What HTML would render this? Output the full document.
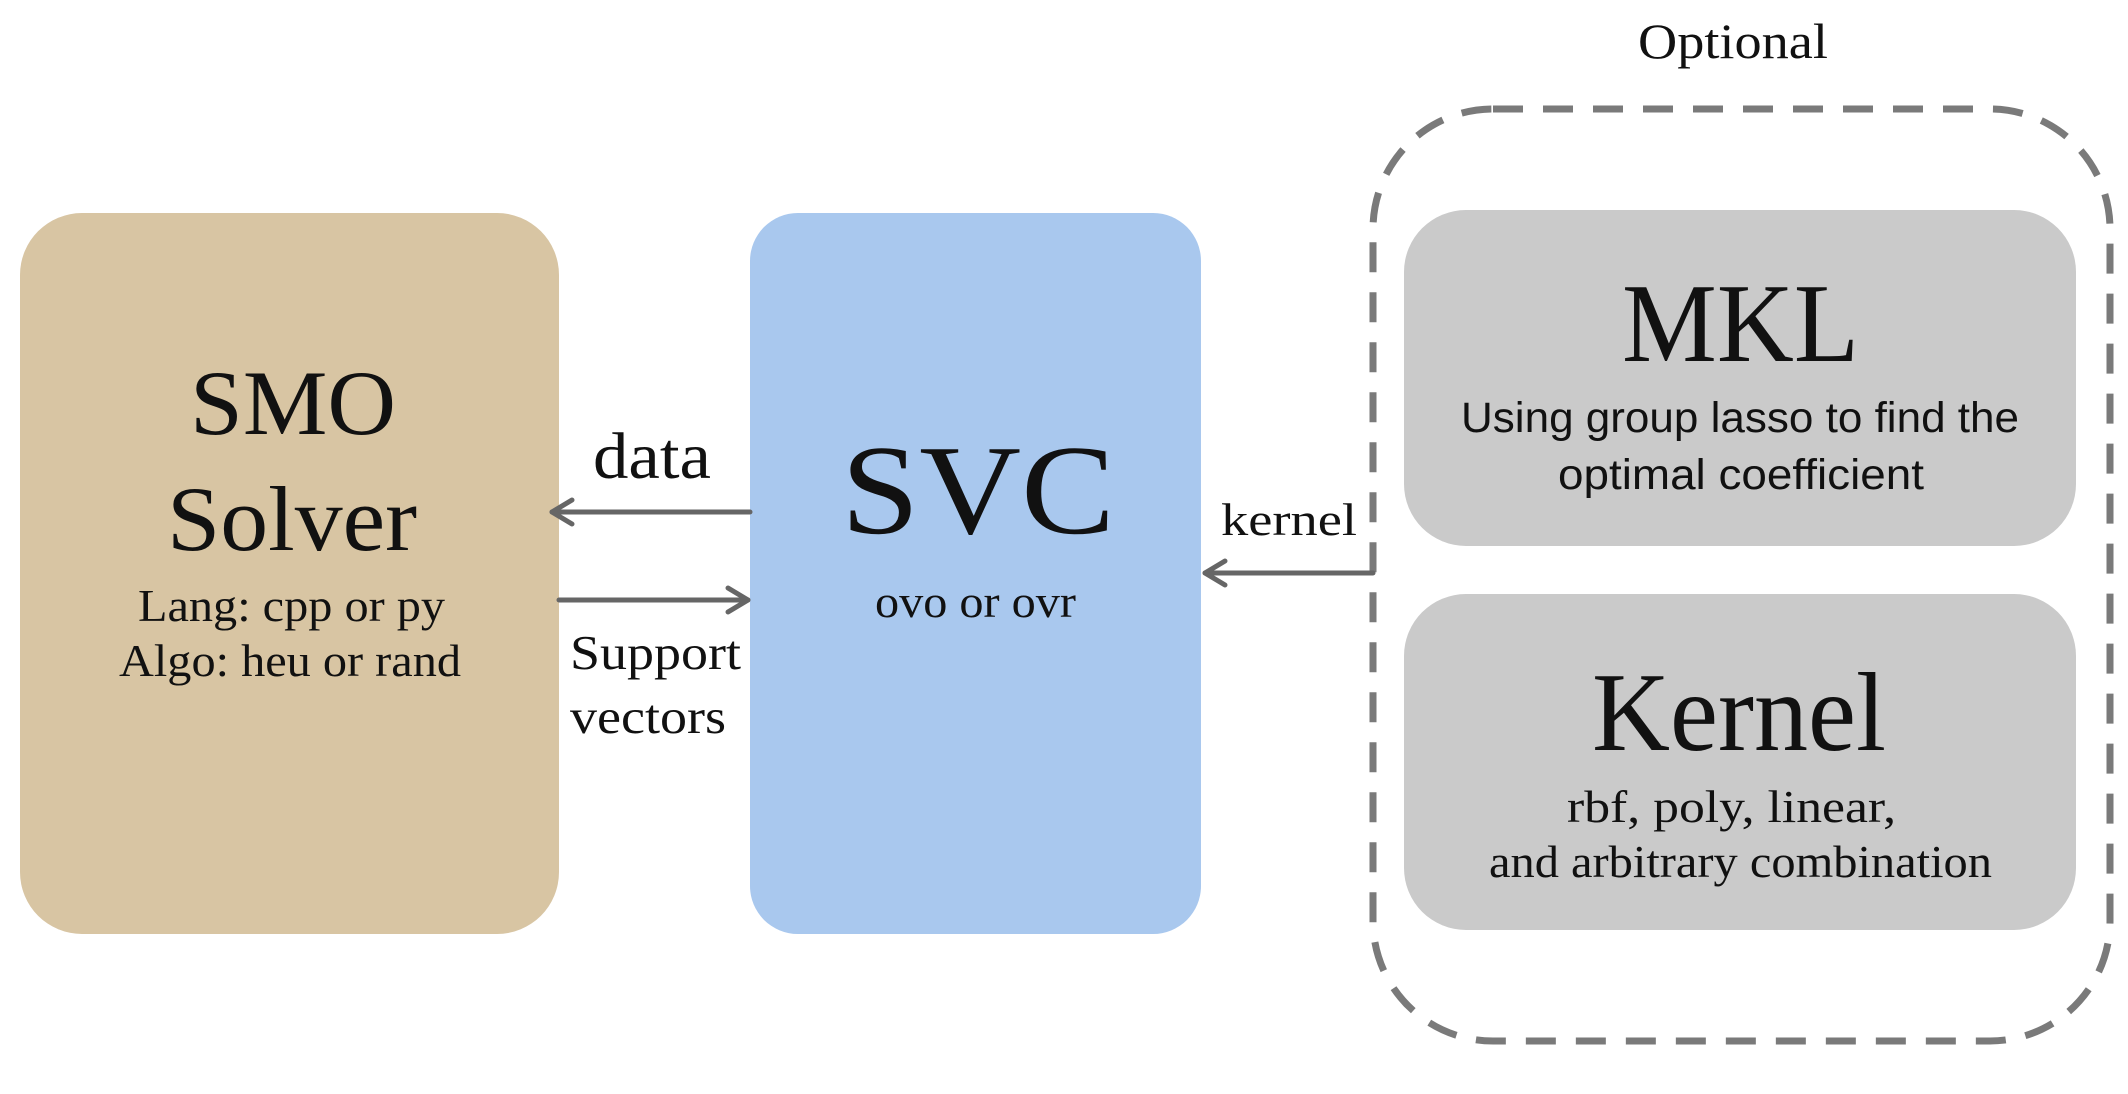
<!DOCTYPE html>
<html><head><meta charset="utf-8"><style>html,body{margin:0;padding:0;background:#fff}svg{display:block}</style></head>
<body>
<svg width="2128" height="1094" viewBox="0 0 2128 1094" xmlns="http://www.w3.org/2000/svg">
<rect x="0" y="0" width="2128" height="1094" fill="#fff"/>
<rect x="20" y="213" width="539" height="721" rx="62" fill="#d8c5a3"/>
<rect x="750" y="213" width="451" height="721" rx="48" fill="#a9c8ee"/>
<rect x="1373" y="109" width="737" height="932" rx="120" fill="none" stroke="#7a7a7a" stroke-width="7" stroke-dasharray="30 20"/>
<rect x="1404" y="210" width="672" height="336" rx="62" fill="#cacaca"/>
<rect x="1404" y="594" width="672" height="336" rx="62" fill="#cacaca"/>
<g stroke="#666" stroke-width="5" fill="none" stroke-linecap="round" stroke-linejoin="round">
<line x1="750" y1="512" x2="552" y2="512"/><polyline points="572,500 552,512 572,524"/>
<line x1="559" y1="600" x2="748" y2="600"/><polyline points="728,588 748,600 728,612"/>
<line x1="1373" y1="573" x2="1205" y2="573"/><polyline points="1225,561 1205,573 1225,585"/>
</g>
<g font-family="Liberation Serif, serif" fill="#111">
<text x="1638" y="58" font-size="50" textLength="190" lengthAdjust="spacingAndGlyphs">Optional</text>
<text x="190" y="434" font-size="92" textLength="206" lengthAdjust="spacingAndGlyphs">SMO</text>
<text x="167" y="550" font-size="92" textLength="250" lengthAdjust="spacingAndGlyphs">Solver</text>
<text x="138" y="621" font-size="46" textLength="307" lengthAdjust="spacingAndGlyphs">Lang: cpp or py</text>
<text x="119" y="676" font-size="46" textLength="342" lengthAdjust="spacingAndGlyphs">Algo: heu or rand</text>
<text x="593" y="478" font-size="66" textLength="118" lengthAdjust="spacingAndGlyphs">data</text>
<text x="570" y="669" font-size="49" textLength="171" lengthAdjust="spacingAndGlyphs">Support</text>
<text x="570" y="733" font-size="49" textLength="156" lengthAdjust="spacingAndGlyphs">vectors</text>
<text x="841" y="533" font-size="128" textLength="274" lengthAdjust="spacingAndGlyphs">SVC</text>
<text x="875" y="617" font-size="46" textLength="201" lengthAdjust="spacingAndGlyphs">ovo or ovr</text>
<text x="1221" y="535" font-size="46" textLength="136" lengthAdjust="spacingAndGlyphs">kernel</text>
<text x="1622" y="361" font-size="112" textLength="237" lengthAdjust="spacingAndGlyphs">MKL</text>
<text x="1592" y="750" font-size="112" textLength="294" lengthAdjust="spacingAndGlyphs">Kernel</text>
<text x="1567" y="822" font-size="46" textLength="329" lengthAdjust="spacingAndGlyphs">rbf, poly, linear,</text>
<text x="1489" y="877" font-size="46" textLength="503" lengthAdjust="spacingAndGlyphs">and arbitrary combination</text>
</g>
<g font-family="Liberation Sans, sans-serif" fill="#111">
<text x="1461" y="432" font-size="43" textLength="558" lengthAdjust="spacingAndGlyphs">Using group lasso to find the</text>
<text x="1558" y="489" font-size="43" textLength="366" lengthAdjust="spacingAndGlyphs">optimal coefficient</text>
</g>
</svg>
</body></html>
